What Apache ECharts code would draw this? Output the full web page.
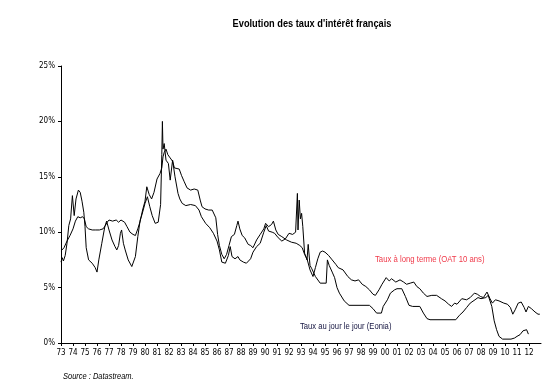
<!DOCTYPE html>
<html>
<head>
<meta charset="utf-8">
<script src="https://cdn.jsdelivr.net/npm/echarts@6/dist/echarts.min.js"></script>
<style>html,body{margin:0;padding:0;background:#fff}#c{width:554px;height:389px}</style>
</head>
<body>
<div id="c"></div>
<script>
const titleText = "Evolution des taux d'intérêt français";
const longLabel = "Taux à long terme (OAT 10 ans)";
const shortLabel = "Taux au jour le jour (Eonia)";
const sourceText = "Source : Datastream.";
const yTicks = [0, 5, 10, 15, 20, 25];

const longRate = [
[1973.0,8.3],[1973.25,8.6],[1973.5,9.2],[1973.75,9.7],[1974.0,10.3],[1974.2,11.0],[1974.4,11.4],[1974.6,11.3],[1974.8,11.4],[1974.95,11.2],
[1975.1,10.5],[1975.3,10.3],[1975.6,10.2],[1975.9,10.2],[1976.2,10.2],[1976.5,10.3],[1976.7,10.6],[1976.85,10.9],[1977.0,11.1],[1977.3,11.0],
[1977.6,11.1],[1977.8,10.9],[1978.0,11.1],[1978.1,11.2],[1978.3,10.9],[1978.5,10.5],[1978.75,10.0],[1979.0,9.8],[1979.2,9.7],[1979.4,10.3],
[1979.6,11.0],[1979.8,12.0],[1980.0,12.8],[1980.15,14.1],[1980.35,13.4],[1980.55,13.0],[1980.75,13.6],[1981.0,14.8],[1981.25,15.3],[1981.4,15.8],
[1981.5,16.8],[1981.6,17.2],[1981.75,17.5],[1981.9,17.0],[1982.1,16.7],[1982.3,16.4],[1982.45,15.8],[1982.6,15.8],[1982.85,15.7],[1983.05,15.1],
[1983.25,14.6],[1983.5,14.0],[1983.8,13.8],[1984.1,13.9],[1984.4,13.8],[1984.6,12.9],[1984.75,12.3],[1985.0,12.1],[1985.3,12.0],[1985.6,12.0],
[1985.9,11.3],[1986.05,9.8],[1986.2,8.8],[1986.4,8.0],[1986.6,7.6],[1986.8,8.0],[1987.0,8.8],[1987.2,9.6],[1987.45,9.8],[1987.65,10.6],
[1987.75,11.0],[1987.9,10.3],[1988.1,9.7],[1988.3,9.5],[1988.6,8.9],[1988.8,8.8],[1989.0,8.6],[1989.3,9.3],[1989.6,9.8],[1989.9,10.3],
[1990.05,10.8],[1990.3,10.5],[1990.55,10.7],[1990.7,11.0],[1990.9,10.2],[1991.1,9.8],[1991.4,9.6],[1991.8,9.3],[1992.2,9.1],[1992.6,9.0],
[1992.9,8.8],[1993.1,8.6],[1993.3,8.0],[1993.5,7.6],[1993.75,6.6],[1994.0,6.0],[1994.2,6.8],[1994.4,7.6],[1994.6,8.2],[1994.8,8.3],
[1995.0,8.2],[1995.3,7.9],[1995.6,7.5],[1995.9,7.1],[1996.1,6.8],[1996.5,6.6],[1996.9,6.0],[1997.2,5.7],[1997.5,5.6],[1997.8,5.7],
[1998.1,5.3],[1998.4,5.1],[1998.7,4.8],[1999.0,4.4],[1999.2,4.3],[1999.5,4.8],[1999.75,5.3],[2000.1,5.9],[2000.35,5.6],[2000.55,5.8],
[2000.9,5.5],[2001.25,5.7],[2001.55,5.5],[2001.8,5.3],[2002.1,5.4],[2002.4,5.5],[2002.65,5.1],[2002.9,4.9],[2003.2,4.5],[2003.5,4.2],
[2003.9,4.3],[2004.3,4.3],[2004.7,4.0],[2005.0,3.8],[2005.3,3.5],[2005.55,3.3],[2005.8,3.6],[2006.0,3.5],[2006.4,4.0],[2006.8,3.9],
[2007.1,4.1],[2007.45,4.5],[2007.7,4.4],[2007.95,4.2],[2008.2,4.1],[2008.5,4.6],[2008.75,4.0],[2008.95,3.6],[2009.2,3.9],[2009.5,3.8],
[2009.9,3.6],[2010.2,3.5],[2010.45,3.2],[2010.65,2.6],[2010.85,3.0],[2011.1,3.6],[2011.35,3.7],[2011.6,3.2],[2011.75,2.8],[2011.95,3.3],
[2012.2,3.1],[2012.5,2.8],[2012.75,2.6],[2012.9,2.6]
];

const shortRate = [
[1973.0,7.3],[1973.1,7.7],[1973.2,7.4],[1973.35,7.9],[1973.5,9.0],[1973.65,10.6],[1973.8,11.2],[1973.95,13.3],[1974.1,11.5],[1974.25,13.0],
[1974.45,13.8],[1974.6,13.6],[1974.75,12.8],[1974.9,11.8],[1975.0,10.5],[1975.1,8.6],[1975.3,7.5],[1975.6,7.2],[1975.85,6.8],[1976.0,6.4],
[1976.15,7.5],[1976.4,9.0],[1976.65,10.5],[1976.8,11.0],[1977.0,10.2],[1977.25,9.3],[1977.5,8.7],[1977.65,8.4],[1977.8,8.8],[1977.95,9.9],
[1978.05,10.2],[1978.2,9.0],[1978.35,8.4],[1978.6,7.5],[1978.9,6.9],[1979.05,6.9],[1979.2,7.8],[1979.4,9.6],[1979.6,11.1],[1979.75,11.6],
[1980.0,12.6],[1980.2,13.2],[1980.4,12.3],[1980.6,11.5],[1980.85,10.8],[1981.1,10.9],[1981.3,12.5],[1981.4,17.0],[1981.45,20.0],[1981.5,17.5],
[1981.6,18.0],[1981.75,16.5],[1981.95,16.2],[1982.1,14.7],[1982.3,16.5],[1982.5,15.0],[1982.75,13.5],[1982.9,13.0],[1983.1,12.6],[1983.4,12.4],
[1983.8,12.5],[1984.2,12.4],[1984.5,12.0],[1984.7,11.4],[1985.05,10.8],[1985.4,10.4],[1985.7,9.9],[1986.0,9.2],[1986.2,8.4],[1986.4,7.3],
[1986.7,7.2],[1986.95,7.9],[1987.1,8.7],[1987.25,7.8],[1987.5,7.6],[1987.75,7.8],[1987.9,7.5],[1988.2,7.3],[1988.45,7.2],[1988.6,7.2],
[1988.8,7.6],[1989.0,8.2],[1989.3,8.7],[1989.6,9.0],[1989.9,10.0],[1990.1,10.6],[1990.3,10.1],[1990.6,10.0],[1990.8,9.9],[1991.1,9.5],
[1991.4,9.2],[1991.7,9.4],[1992.0,9.9],[1992.3,9.8],[1992.55,10.0],[1992.7,13.5],[1992.75,10.2],[1992.85,12.9],[1992.95,11.2],[1993.05,11.7],
[1993.15,10.5],[1993.3,8.1],[1993.5,7.5],[1993.6,8.9],[1993.75,7.0],[1993.9,6.7],[1994.2,6.0],[1994.6,5.4],[1995.1,5.4],[1995.2,7.5],
[1995.35,7.0],[1995.6,6.4],[1995.8,5.9],[1996.0,5.0],[1996.2,4.5],[1996.6,3.8],[1997.0,3.4],[1997.5,3.4],[1998.0,3.4],[1998.7,3.4],
[1999.0,3.1],[1999.3,2.7],[1999.7,2.7],[1999.85,3.3],[2000.2,3.9],[2000.45,4.5],[2000.8,4.8],[2001.0,4.9],[2001.4,4.9],[2001.7,4.2],
[2002.0,3.4],[2002.3,3.3],[2002.9,3.3],[2003.2,2.7],[2003.5,2.2],[2003.75,2.1],[2005.0,2.1],[2005.9,2.1],[2006.2,2.5],[2006.5,2.8],
[2006.8,3.2],[2007.1,3.6],[2007.5,3.9],[2007.75,4.1],[2008.0,4.0],[2008.4,4.1],[2008.6,4.3],[2008.75,4.3],[2008.9,3.3],[2009.1,2.0],
[2009.3,1.2],[2009.5,0.6],[2009.8,0.35],[2010.5,0.35],[2010.8,0.45],[2011.0,0.6],[2011.25,0.75],[2011.5,1.1],[2011.65,1.0],[2011.8,1.2],
[2011.95,0.8]
];

const FONT = "'DejaVu Sans Condensed','Liberation Sans Narrow','Liberation Sans',Arial,sans-serif";
const TFONT = "'Liberation Sans',Arial,sans-serif";
const chart = echarts.init(document.getElementById('c'), null, {renderer: 'canvas'});
chart.setOption({
  animation: false,
  backgroundColor: '#fff',
  grid: {left: 61, right: 13, top: 66, bottom: 46, containLabel: false},
  xAxis: {
    type: 'value', min: 1973, max: 2013, interval: 1,
    axisLine: {lineStyle: {color: '#000', width: 1}},
    axisTick: {show: true, length: 3, lineStyle: {color: '#000'}},
    splitLine: {show: false},
    axisLabel: {
      fontFamily: FONT, fontSize: 8, color: '#000', margin: 6, showMaxLabel: false,
      formatter: v => (v >= 2013 ? '' : String(v % 100).padStart(2, '0'))
    }
  },
  yAxis: {
    type: 'value', min: yTicks[0], max: yTicks[yTicks.length - 1], interval: 5,
    axisLine: {show: true, lineStyle: {color: '#000', width: 1}},
    axisTick: {show: true, length: 3, lineStyle: {color: '#000'}},
    splitLine: {show: false},
    axisLabel: {fontFamily: FONT, fontSize: 8, color: '#000', margin: 6, formatter: v => v + '%'}
  },
  series: [
    {type: 'line', data: longRate, showSymbol: false, lineStyle: {color: '#000', width: 1}, z: 3},
    {type: 'line', data: shortRate, showSymbol: false, lineStyle: {color: '#000', width: 1}, z: 3}
  ],
  graphic: [
    {type: 'text', x: 312, y: 24, scaleX: 0.84, style: {text: titleText, fill: '#000', font: 'bold 11px ' + TFONT, align: 'center', verticalAlign: 'middle'}},
    {type: 'text', x: 375, y: 260, scaleX: 0.86, style: {text: longLabel, fill: '#f03a4a', font: '9px ' + TFONT, verticalAlign: 'middle'}},
    {type: 'text', x: 300, y: 327, scaleX: 0.85, style: {text: shortLabel, fill: '#141440', font: '9px ' + TFONT, verticalAlign: 'middle'}},
    {type: 'text', x: 63, y: 376, scaleX: 0.83, style: {text: sourceText, fill: '#000', font: 'italic 9px ' + TFONT, verticalAlign: 'middle'}}
  ]
});
</script>
</body>
</html>
